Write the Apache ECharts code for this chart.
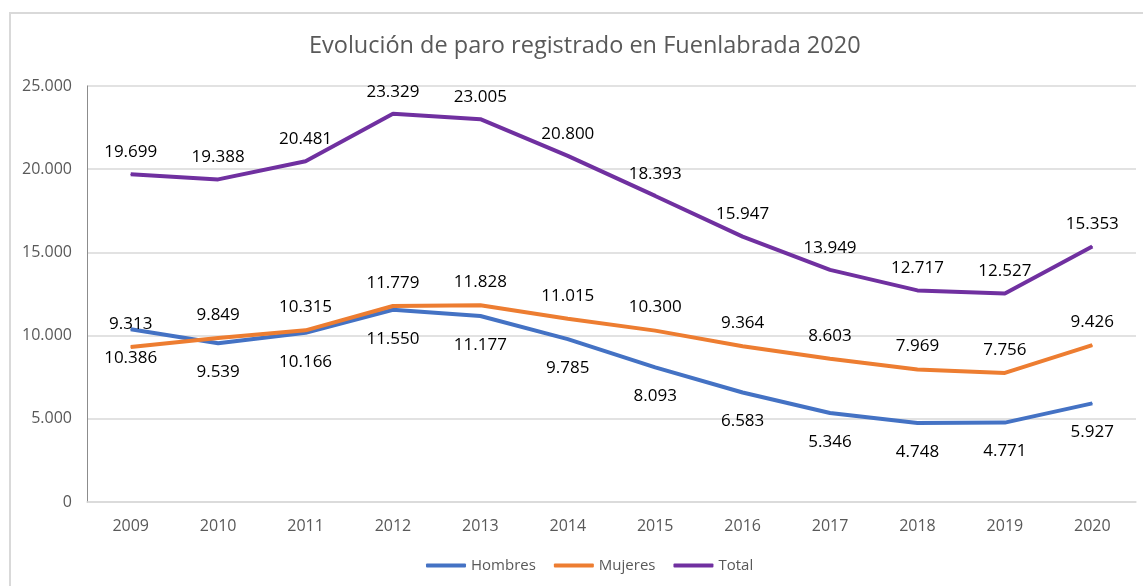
<!DOCTYPE html>
<html>
<head>
<meta charset="utf-8">
<script src="https://cdn.jsdelivr.net/npm/echarts@6/dist/echarts.min.js"></script>
<style>
  html, body { margin: 0; padding: 0; background: #fff; }
  #chart { width: 1143px; height: 586px; }
</style>
</head>
<body>
<div id="chart"></div>
<script>
const years = ['2009', '2010', '2011', '2012', '2013', '2014', '2015', '2016', '2017', '2018', '2019', '2020'];
const hombres = [10386, 9539, 10166, 11550, 11177, 9785, 8093, 6583, 5346, 4748, 4771, 5927];
const mujeres = [9313, 9849, 10315, 11779, 11828, 11015, 10300, 9364, 8603, 7969, 7756, 9426];
const total = [19699, 19388, 20481, 23329, 23005, 20800, 18393, 15947, 13949, 12717, 12527, 15353];

const fmt = v => String(v).replace(/\B(?=(\d{3})+(?!\d))/g, '.');
const font = '"Open Sans", "Noto Sans", sans-serif';

const chart = echarts.init(document.getElementById('chart'));

// labels only show when the points have a symbol, so give them a tiny invisible one
const lineSeries = (name, data, color, pos, dist) => ({
  name: name,
  type: 'line',
  data: data,
  symbol: 'circle',
  symbolSize: 1,
  showSymbol: true,
  lineStyle: { color: color, width: 4 },
  itemStyle: { color: color },
  label: {
    show: true,
    position: pos,
    distance: dist,
    color: '#000',
    fontSize: 17,
    fontFamily: font,
    formatter: p => fmt(p.value)
  }
});

chart.setOption({
  animation: false,
  title: {
    text: 'Evolución de paro registrado en Fuenlabrada 2020',
    left: 304,
    top: 29,
    textStyle: { color: '#595959', fontSize: 23.5, fontWeight: 'normal', fontFamily: font }
  },
  graphic: [{
    type: 'rect',
    shape: { x: 10, y: 13, width: 1200, height: 600 },
    style: { fill: 'none', stroke: '#d9d9d9', lineWidth: 2 }
  }],
  legend: {
    bottom: 8,
    left: 421,
    itemWidth: 40,
    itemHeight: 4,
    itemGap: 18,
    icon: 'roundRect',
    textStyle: { color: '#595959', fontSize: 15, fontFamily: font }
  },
  grid: { left: 87, right: 7, top: 86, bottom: 84, containLabel: false },
  xAxis: {
    type: 'category',
    data: years,
    boundaryGap: true,
    axisLine: { lineStyle: { color: '#d9d9d9', width: 1.5 } },
    axisTick: { show: false },
    axisLabel: { color: '#595959', fontSize: 16, margin: 16, fontFamily: font }
  },
  yAxis: {
    type: 'value',
    min: 0,
    max: 25000,
    interval: 5000,
    axisLine: { show: true, lineStyle: { color: '#8c8c8c', width: 1 } },
    axisTick: { show: false },
    splitLine: { lineStyle: { color: '#d9d9d9', width: 1.5 } },
    axisLabel: { color: '#595959', fontSize: 16, margin: 15, fontFamily: font, formatter: v => fmt(v) }
  },
  series: [
    lineSeries('Hombres', hombres, '#4472C4', 'bottom', 20),
    lineSeries('Mujeres', mujeres, '#ED7D31', 'top', 14),
    lineSeries('Total', total, '#7030A0', 'top', 13)
  ]
});
</script>
</body>
</html>
